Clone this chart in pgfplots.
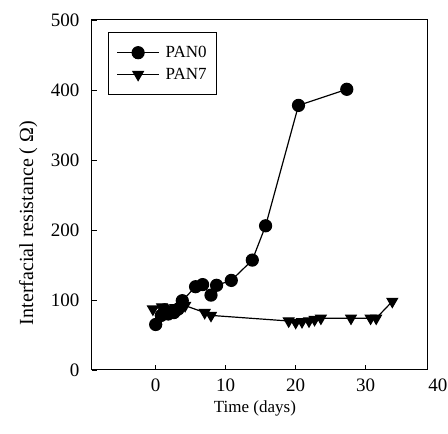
\documentclass[border=0pt]{standalone}
\usepackage{pgfplots}
\pgfplotsset{compat=1.18}
\usepackage{graphicx}
\usepackage{fontspec}
\setmainfont{Liberation Serif}
\begin{document}
\begin{tikzpicture}
\useasboundingbox (-92pt,-64pt) rectangle (356pt,370pt);
\begin{axis}[
  at={(0pt,0pt)}, anchor=south west,
  scale only axis, width=336pt, height=350pt,
  xmin=-9.1, xmax=38.9, ymin=0, ymax=500,
  xtick={0,10,20,30}, ytick={0,100,200,300,400,500},
  clip=false,
  axis line style={line width=1pt},
  tick align=inside, major tick length=5pt,
  xtick pos=bottom, ytick pos=left,
  tick style={line width=0.8pt, black},
  /pgf/number format/assume math mode=true,
  ticklabel style={font=\fontsize{19}{22}\selectfont},
  xlabel={Time (days)},
  xlabel style={font=\fontsize{17}{20}\selectfont, at={(axis description cs:0.485,-0.11)}, anchor=center},
  x tick label style={yshift=-5pt},
  y tick label style={xshift=-9pt},
  legend style={at={(0.048,0.966)}, anchor=north west, draw=black, line width=0.8pt,
    font=\fontsize{17}{20}\selectfont, inner xsep=8pt, inner ysep=12pt, row sep=5pt},
  legend cell align=left,
  legend image code/.code={\draw[mark repeat=2,mark phase=2] plot coordinates {(0pt,0pt)(21pt,0pt)(42pt,0pt)};},
]
\addplot[black, line width=1.2pt, mark=*, mark size=6pt, mark options={solid}] coordinates {
(0,65) (0.8,78) (1.3,86) (1.8,80) (2.6,82) (3.2,87) (3.8,99) (5.7,119) (6.7,122) (7.9,107) (8.7,121) (10.8,128) (13.8,157) (15.7,206) (20.4,378) (27.3,401)
};
\addlegendentry{\hspace{4pt}PAN0\hspace{18pt}}
\addplot[black, line width=1.2pt, mark=triangle*, mark size=6pt, mark options={solid, rotate=180}] coordinates {
(-0.4,87) (0.9,90) (1.6,86) (2.8,89) (4.2,92) (7.0,82) (7.9,78) (19.0,70) (20.0,68) (20.9,69) (21.9,70) (22.7,72) (23.6,74) (27.9,74) (30.7,74) (31.5,74) (33.8,98)
};
\addlegendentry{\hspace{4pt}PAN7\hspace{18pt}}
\node[font=\fontsize{19}{22}\selectfont, anchor=north, inner sep=0pt] at (axis cs:40.3,0) [yshift=-9pt] {40};
\node[font=\fontsize{20}{23}\selectfont, anchor=center, inner sep=0pt] at (axis description cs:-0.19,0.42) {\rotatebox{90}{Interfacial resistance ( Ω)}};
\end{axis}
\end{tikzpicture}
\end{document}
